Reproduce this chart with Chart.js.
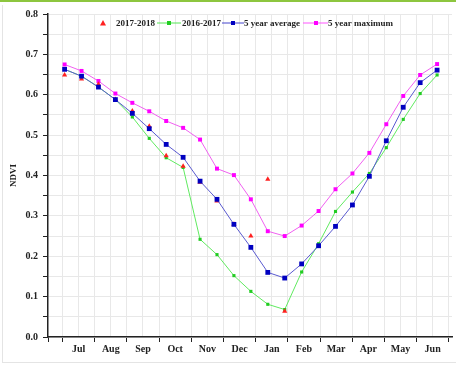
<!DOCTYPE html>
<html>
<head>
<meta charset="utf-8">
<script src="https://cdn.jsdelivr.net/npm/chart.js@4/dist/chart.umd.min.js"></script>
<style>
  html, body { margin: 0; padding: 0; background: #fff; }
  #wrap { position: relative; width: 456px; height: 367px; overflow: hidden; }
  #topbar { position: absolute; left: 0; top: 0; width: 456px; height: 2px; background: #8dc63f; }
  #frame { position: absolute; left: 2px; top: 5px; width: 460px; height: 357px;
           border-left: 1px solid #e4e4e4; border-bottom: 1px solid #e4e4e4; }
  #chart { position: absolute; left: 0; top: 0; }
</style>
</head>
<body>
<div id="wrap">
  <div id="topbar"></div>
  <div id="frame"></div>
  <canvas id="chart" width="456" height="367"></canvas>
</div>
<script>
// --- Data ---

// 16-day composites, day counted from 1 July
const dayOfSeason = [2, 18, 34, 50, 66, 82, 98, 114, 130, 146, 162, 178,
                     194, 210, 226, 242, 258, 274, 290, 306, 322, 338, 354];
const monthLabels = ["Jul", "Aug", "Sep", "Oct", "Nov", "Dec",
                     "Jan", "Feb", "Mar", "Apr", "May", "Jun"];

const ndvi20172018 = [0.649, 0.639, 0.626, 0.588, 0.560, 0.522, 0.449, 0.423,
                      0.383, 0.337, 0.279, 0.250, 0.391, 0.064];
const ndvi20162017 = [0.663, 0.646, 0.619, 0.588, 0.545, 0.492, 0.444, 0.420,
                      0.242, 0.204, 0.152, 0.113, 0.081, 0.068, 0.161, 0.231,
                      0.311, 0.359, 0.405, 0.469, 0.539, 0.603, 0.649];
const ndviAverage5y = [0.663, 0.646, 0.619, 0.588, 0.554, 0.516, 0.477, 0.445,
                       0.386, 0.341, 0.279, 0.222, 0.160, 0.146, 0.181, 0.226,
                       0.274, 0.327, 0.398, 0.486, 0.569, 0.630, 0.661];
const ndviMaximum5y = [0.675, 0.659, 0.634, 0.603, 0.580, 0.559, 0.535, 0.518,
                       0.489, 0.417, 0.401, 0.341, 0.262, 0.250, 0.276, 0.312,
                       0.366, 0.405, 0.456, 0.527, 0.597, 0.649, 0.676];

// --- Helpers ---

const DAYS_PER_MONTH = 30.42;
const X_MIN = -0.45;

function toPoints(values) {
  return values.map((v, i) => ({ x: dayOfSeason[i] / DAYS_PER_MONTH, y: v }));
}

function isMonthMiddle(v) {
  return Math.abs(v - Math.floor(v) - 0.5) < 1e-6;
}

Chart.defaults.font.family = "'Liberation Serif', 'Times New Roman', serif";
Chart.defaults.font.weight = "bold";
Chart.defaults.font.size = 10;
Chart.defaults.color = "#222";

// Legend drawn by hand so it sits inside the plot like the original
const legendItems = [
  { text: "2017-2018", symbolX: 103, textX: 116, line: null, color: "#ff2020", style: "triangle" },
  { text: "2016-2017", symbolX: 169, textX: 182, line: [157, 181], color: "#22cc22", lineColor: "#55e855", style: "rect" },
  { text: "5 year average", symbolX: 233, textX: 244, line: [222, 244], color: "#0000c0", lineColor: "#4444cc", style: "rect" },
  { text: "5 year maximum", symbolX: 316, textX: 328, line: [303, 328], color: "#ff00ff", lineColor: "#ff55ff", style: "rect" },
];

const insideLegend = {
  id: "insideLegend",
  afterDraw(chart) {
    const ctx = chart.ctx;
    const y = 23;
    ctx.save();
    ctx.font = "bold 9px 'Liberation Serif', serif";
    ctx.textBaseline = "middle";
    legendItems.forEach((it) => {
      if (it.line) {
        ctx.strokeStyle = it.lineColor;
        ctx.lineWidth = 1;
        ctx.beginPath();
        ctx.moveTo(it.line[0], y);
        ctx.lineTo(it.line[1], y);
        ctx.stroke();
      }
      ctx.fillStyle = it.color;
      if (it.style === "triangle") {
        ctx.beginPath();
        ctx.moveTo(it.symbolX, y - 3);
        ctx.lineTo(it.symbolX + 3, y + 2.5);
        ctx.lineTo(it.symbolX - 3, y + 2.5);
        ctx.closePath();
        ctx.fill();
      } else {
        ctx.fillRect(it.symbolX - 2, y - 2, 4, 4);
      }
      ctx.fillStyle = "#222";
      ctx.fillText(it.text, it.textX, y + 0.5);
    });
    ctx.restore();
  },
};

// --- Chart ---

const ctx = document.getElementById("chart").getContext("2d");

new Chart(ctx, {
  type: "line",
  data: {
    datasets: [
      {
        label: "2017-2018",
        data: toPoints(ndvi20172018),
        showLine: false,
        pointStyle: "triangle",
        pointRadius: 3,
        pointBackgroundColor: "#ff2020",
        pointBorderColor: "#ff2020",
        pointBorderWidth: 0,
        order: 1,
      },
      {
        label: "2016-2017",
        data: toPoints(ndvi20162017),
        borderColor: "#60ea60",
        borderWidth: 1,
        pointStyle: "rect",
        pointRadius: 2.2,
        pointBackgroundColor: "#22cc22",
        pointBorderColor: "#22cc22",
        pointBorderWidth: 0,
        tension: 0,
        order: 2,
      },
      {
        label: "5 year average",
        data: toPoints(ndviAverage5y),
        borderColor: "#5a5ad0",
        borderWidth: 1,
        pointStyle: "rect",
        pointRadius: 3.4,
        pointBackgroundColor: "#0000c0",
        pointBorderColor: "#0000c0",
        pointBorderWidth: 0,
        tension: 0,
        order: 0,
      },
      {
        label: "5 year maximum",
        data: toPoints(ndviMaximum5y),
        borderColor: "#f060f0",
        borderWidth: 1,
        pointStyle: "rect",
        pointRadius: 2.8,
        pointBackgroundColor: "#ff00ff",
        pointBorderColor: "#ff00ff",
        pointBorderWidth: 0,
        tension: 0,
        order: 3,
      },
    ],
  },
  options: {
    responsive: false,
    animation: false,
    layout: { padding: { top: 14, right: 0, bottom: 0, left: 0 } },
    plugins: {
      legend: { display: false },
      tooltip: { enabled: false },
    },
    scales: {
      x: {
        type: "linear",
        min: X_MIN,
        max: 12.1,
        afterBuildTicks: (scale) => {
          const ticks = [{ value: X_MIN }];
          for (let v = 0; v <= 12; v += 0.5) ticks.push({ value: v });
          scale.ticks = ticks;
        },
        afterFit: (scale) => { scale.height = 30; },
        ticks: {
          autoSkip: false,
          maxRotation: 0,
          padding: 1,
          callback: (v) => (isMonthMiddle(v) ? monthLabels[Math.floor(v)] : ""),
        },
        grid: {
          color: (c) => (c.tick && c.tick.value === X_MIN ? "rgba(0,0,0,0)" : "#e8e8e8"),
          tickColor: (c) => (c.tick && isMonthMiddle(c.tick.value) ? "rgba(0,0,0,0)" : "#222"),
          tickLength: 5,
          lineWidth: 1,
        },
        border: { color: "#222", width: 1.5 },
      },
      y: {
        min: 0,
        max: 0.8,
        afterFit: (scale) => { scale.width = 48; },
        ticks: {
          stepSize: 0.05,
          padding: 5,
          callback: (v) => (Math.abs(v * 10 - Math.round(v * 10)) < 1e-6 ? v.toFixed(1) : ""),
        },
        grid: {
          color: "#e8e8e8",
          tickColor: "#222",
          tickLength: 5,
        },
        border: { color: "#222", width: 1.5 },
        title: {
          display: true,
          text: "NDVI",
          font: { size: 9, weight: "bold" },
          padding: { top: 8, bottom: 0 },
        },
      },
    },
  },
  plugins: [insideLegend],
});
</script>
</body>
</html>
